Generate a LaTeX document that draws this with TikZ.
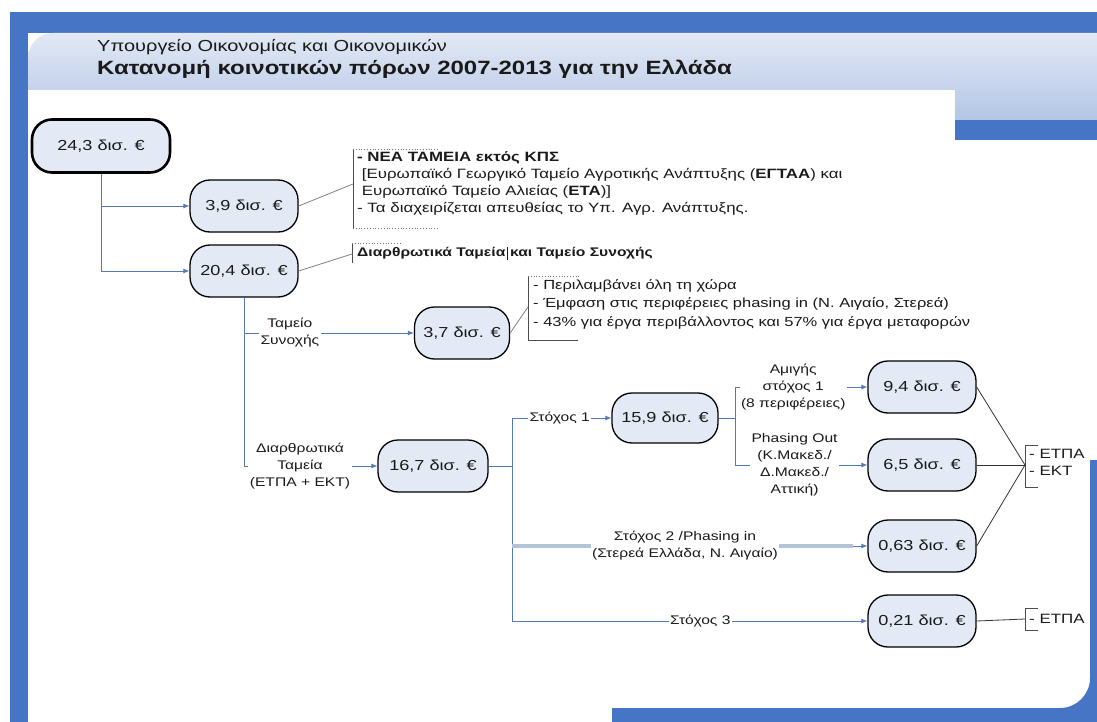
\documentclass[tikz,border=0pt]{standalone}
\usepackage{fontspec}
\setmainfont{Liberation Sans}[FakeStretch=1.25]
\usetikzlibrary{arrows.meta}
\definecolor{bandblue}{HTML}{4575C4}
\definecolor{hdtop}{HTML}{E2E9F4}
\definecolor{hdbot}{HTML}{B4C6E6}
\definecolor{pillfill}{HTML}{E4EAF5}
\definecolor{linkblue}{HTML}{5479B8}
\definecolor{calloutgray}{HTML}{808080}
\definecolor{thickgray}{HTML}{B5C3D8}
\definecolor{txt}{HTML}{1A1A1A}
\tikzset{
  pill/.style={draw=black, line width=1.3pt, fill=pillfill, rounded corners=20pt,
    minimum width=108pt, minimum height=52pt, inner sep=0pt, text=txt,
    font=\fontsize{14.5}{18}\selectfont},
  link/.style={draw=linkblue, line width=0.8pt},
  arr/.style={-{Latex[length=6pt,width=5pt]}},
  lbl/.style={fill=white, inner sep=1.5pt, align=center, text=txt,
    font=\fontsize{12.5}{17}\selectfont},
  callout/.style={draw=calloutgray, line width=0.8pt},
  brk/.style={draw=black!70, line width=0.8pt},
  brkdot/.style={draw=black!55, line width=0.8pt, dotted},
  note/.style={anchor=north west, align=left, inner sep=0pt, text=txt,
    font=\fontsize{13.5}{17}\selectfont},
  conv/.style={draw=black!80, line width=0.8pt},
}
\begin{document}
\begin{tikzpicture}[x=1pt,y=-1pt]
\useasboundingbox (0,0) rectangle (1097,722);
% ---------- background ----------
\fill[white] (0,0) rectangle (1097,722);
\fill[bandblue] (10,12) rectangle (1097,33);
\fill[bandblue] (10,12) rectangle (28,722);
\shade[top color=hdtop, bottom color=hdbot]
  (28,90) -- (28,58) arc (180:270:25) -- (1097,33) -- (1097,120) -- (955,120) -- (955,90) -- cycle;
\fill[bandblue] (955,120) rectangle (1097,140);
\fill[bandblue] (1090,460) -- (1097,460) -- (1097,722) -- (612,722) -- (612,708)
  -- (1060,708) arc (90:0:30) -- cycle;
% ---------- title ----------
\node[anchor=base west, inner sep=0pt, text=txt, font=\fontsize{16}{18}\selectfont] (title1) at (97,52) {Υπουργείο Οικονομίας και Οικονομικών};
\node[anchor=base west, inner sep=0pt, text=txt, font=\bfseries\fontsize{19.2}{22}\selectfont] (title2) at (97,75) {Κατανομή κοινοτικών πόρων 2007-2013 για την Ελλάδα};
% ---------- nodes ----------
\node[pill, line width=2.6pt, minimum width=138pt, minimum height=53pt] (a) at (101,146) {24,3 δισ. €};
\node[pill] (b) at (244,206) {3,9 δισ. €};
\node[pill] (c) at (244,271) {20,4 δισ. €};
\node[pill, minimum width=95pt] (d) at (462,333) {3,7 δισ. €};
\node[pill, minimum width=110pt] (e) at (433,466) {16,7 δισ. €};
\node[pill, minimum width=106pt, minimum height=50pt] (f) at (665,418) {15,9 δισ. €};
\node[pill] (g) at (922,387) {9,4 δισ. €};
\node[pill] (h) at (922,465) {6,5 δισ. €};
\node[pill] (i) at (922,546) {0,63 δισ. €};
\node[pill] (j) at (922,621) {0,21 δισ. €};
% ---------- junction coordinates ----------
\coordinate (ja1) at (a.south |- b);
\coordinate (ja2) at (a.south |- c);
\coordinate (jc1) at (c.south |- d);
\coordinate (jc2) at (c.south |- e);
\coordinate (je0) at (512,466);
\coordinate (je1) at (512,418);
\coordinate (je2) at (512,546);
\coordinate (je3) at (512,621);
\coordinate (jf0) at (735,418);
\coordinate (jf1) at (735,387);
\coordinate (jf2) at (735,465);
\coordinate (ji) at (853,546);
% ---------- connectors ----------
\draw[link] (a.south) -- (ja2);
\draw[link, arr] (ja1) -- (b);
\draw[link, arr] (ja2) -- (c);
\draw[link] (c.south) -- (jc2);
\draw[link, arr] (jc1) -- node[lbl, pos=0.27] (l1) {Ταμείο\\Συνοχής} (d);
\draw[link, arr] (jc2) -- node[lbl, pos=0.42] (l2) {Διαρθρωτικά\\Ταμεία\\(ΕΤΠΑ + ΕΚΤ)} (e);
\draw[link] (e) -- (je0);
\draw[link] (je1) -- (je3);
\draw[link, arr] (je1) -- node[lbl, pos=0.48] (l3) {Στόχος 1} (f);
\draw[thickgray, line width=3.5pt] (je2) -- (ji);
\draw[link, arr] (ji) -- (i);
\node[lbl] (l4) at (685,546) {Στόχος 2 /Phasing in\\(Στερεά Ελλάδα, Ν. Αιγαίο)};
\draw[link, arr] (je3) -- node[lbl, pos=0.53] (l5) {Στόχος 3} (j);
\draw[link] (f) -- (jf0);
\draw[link] (jf1) -- (jf2);
\draw[link, arr] (jf1) -- node[lbl, pos=0.44] (l6) {Αμιγής\\στόχος 1\\(8 περιφέρειες)} (g);
\draw[link, arr] (jf2) -- node[lbl, pos=0.45] (l7) {Phasing Out\\(Κ.Μακεδ./\\Δ.Μακεδ./\\Αττική)} (h);
% ---------- annotations ----------
% box 1
\coordinate (n1) at (353,184);
\draw[brk] (353,149) -- (353,228);
\draw[brkdot] (353,149) -- (438,149);
\draw[brkdot] (353,228) -- (438,228);
\node[note] (t1) at (357,151) {\textbf{- ΝΕΑ ΤΑΜΕΙΑ εκτός ΚΠΣ}\\
 \ [Ευρωπαϊκό Γεωργικό Ταμείο Αγροτικής Ανάπτυξης (\textbf{ΕΓΤΑΑ}) και\\
 \ Ευρωπαϊκό Ταμείο Αλιείας (\textbf{ΕΤΑ})]\\
- Τα διαχειρίζεται απευθείας το Υπ. Αγρ. Ανάπτυξης.};
\draw[callout] (b.east) -- (n1);
% box 2
\coordinate (n2) at (352,254);
\draw[brk] (352,243) -- (352,263);
\draw[brkdot] (352,243) -- (402,243);
\node[note, anchor=west, font=\fontsize{12.5}{15}\selectfont] (t2) at (357,253) {\textbf{Διαρθρωτικά Ταμεία}\,\rule[-3pt]{0.7pt}{13pt}\,\textbf{και Ταμείο Συνοχής}};
\draw[callout] (c.east) -- (n2);
% box 3
\coordinate (n3) at (528,307);
\draw[brk] (528,276) -- (528,340);
\draw[brkdot] (528,276) -- (580,276);
\draw[brk] (528,340) -- (578,340);
\node[note, font=\fontsize{13.2}{18.5}\selectfont] (t3) at (533,279) {- Περιλαμβάνει όλη τη χώρα\\
- Έμφαση στις περιφέρειες phasing in (Ν. Αιγαίο, Στερεά)\\
- 43\% για έργα περιβάλλοντος και 57\% για έργα μεταφορών};
\draw[callout] (d.east) -- (n3);
% box 4
\coordinate (n4) at (1025,465);
\draw[brk] (1038,445) -- (1025,445) -- (1025,487) -- (1038,487);
\node[note] (t4) at (1029,449) {- ΕΤΠΑ\\- ΕΚΤ};
\draw[conv] (g.east) -- (n4);
\draw[conv] (h.east) -- (n4);
\draw[conv] (i.east) -- (n4);
% box 5
\coordinate (n5) at (1025,619);
\draw[brk] (1038,608) -- (1025,608) -- (1025,630) -- (1038,630);
\node[note, anchor=west] (t5) at (1029,619) {- ΕΤΠΑ};
\draw[conv] (j.east) -- (n5);
\end{tikzpicture}
\end{document}
